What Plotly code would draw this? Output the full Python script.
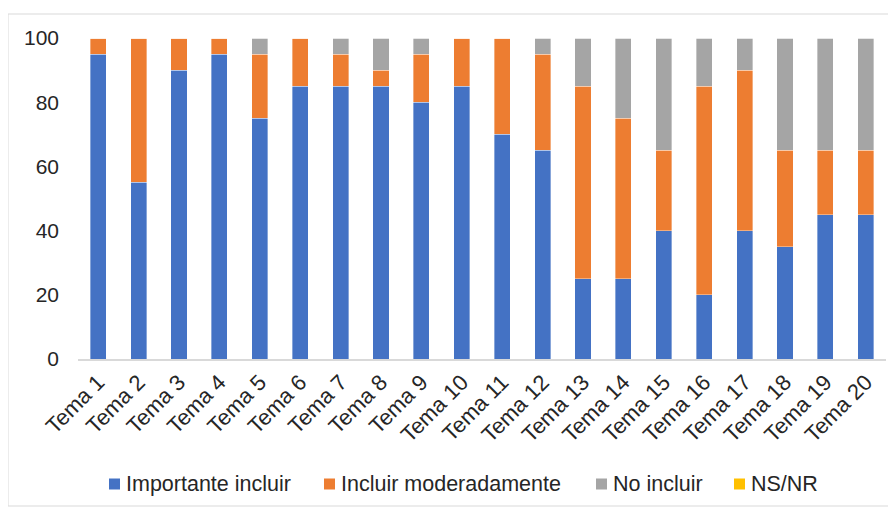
import plotly.graph_objects as go

categories = [f"Tema {i}" for i in range(1, 21)]
importante = [95, 55, 90, 95, 75, 85, 85, 85, 80, 85, 70, 65, 25, 25, 40, 20, 40, 35, 45, 45]
moderado = [5, 45, 10, 5, 20, 15, 10, 5, 15, 15, 30, 30, 60, 50, 25, 65, 50, 30, 20, 20]
no_incluir = [0, 0, 0, 0, 5, 0, 5, 10, 5, 0, 0, 5, 15, 25, 35, 15, 10, 35, 35, 35]
nsnr = [0] * 20

series_names = ["Importante incluir", "Incluir moderadamente", "No incluir", "NS/NR"]
series_values = [importante, moderado, no_incluir, nsnr]
series_colors = ["#4472C4", "#ED7D31", "#A5A5A5", "#FFC000"]

FONT = "Liberation Sans, Arial, sans-serif"
TXT = "#262626"

fig = go.Figure()
for name, vals, color in zip(series_names, series_values, series_colors):
    fig.add_trace(go.Bar(
        x=categories, y=vals, name=name, showlegend=False,
        marker=dict(color=color, line=dict(color="rgba(255,255,255,0.6)", width=0.6)),
    ))

# page has an 8px body margin; figure pixel = page pixel - 8
OFF = 8
W, H = 888, 499
L, T = 78 - OFF, 38 - OFF
PR, PB = 886 - OFF, 359 - OFF
R, B = W - PR, H - PB
pw = PR - L
ph = PB - T


def px(x):
    return (x - OFF - L) / pw


def py(y):
    return (PB - (y - OFF)) / ph


shapes = [dict(type="rect", xref="paper", yref="paper",
               x0=px(8), x1=px(895), y0=py(506), y1=py(14),
               line=dict(color="#d9d9d9", width=1), layer="below")]
annotations = []

# legend: square marker + label at the reference legend positions
legend_sq_x = [109, 324, 596, 734]
legend_y = 484
for sx, name, color in zip(legend_sq_x, series_names, series_colors):
    shapes.append(dict(type="rect", xref="paper", yref="paper",
                       x0=px(sx), x1=px(sx + 11), y0=py(legend_y + 5.5), y1=py(legend_y - 5.5),
                       fillcolor=color, line=dict(width=0)))
    annotations.append(dict(xref="paper", yref="paper", x=px(sx + 15), y=py(legend_y),
                            xanchor="left", yanchor="middle", showarrow=False, text=name,
                            font=dict(family=FONT, size=21.5, color=TXT)))

fig.update_layout(
    width=W, height=H,
    barmode="stack", bargap=0.6,
    margin=dict(l=L, r=R, t=T, b=B),
    paper_bgcolor="white", plot_bgcolor="white",
    font=dict(family=FONT, size=21, color=TXT),
    showlegend=False,
    shapes=shapes, annotations=annotations,
    xaxis=dict(
        tickangle=-45, showgrid=False, showline=True, linecolor="#d9d9d9",
        linewidth=1.5, ticks="", tickfont=dict(size=22, color=TXT), automargin=False,
    ),
    yaxis=dict(
        range=[0, 100], dtick=20, showgrid=False, showline=False, zeroline=False,
        ticks="", tickfont=dict(size=21, color=TXT), ticklabelstandoff=18, automargin=False,
    ),
)

fig.write_html("out.html")
